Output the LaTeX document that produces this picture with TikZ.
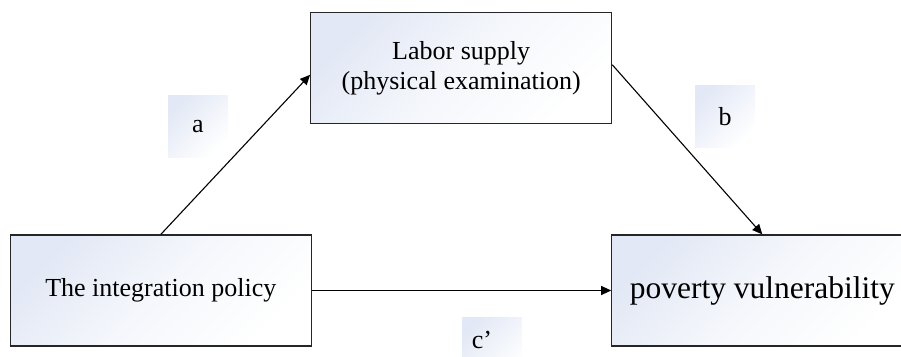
\documentclass[tikz,border=0pt]{standalone}
\usepackage{fontspec}
\setmainfont{Liberation Serif}
\usetikzlibrary{arrows.meta}
\definecolor{boxblue}{RGB}{226,232,245}
\tikzset{
    varbox/.style={draw=black!85, line width=1.2pt, top color=boxblue, bottom color=white, middle color=boxblue!35!white, shading angle=45,
        minimum width=301pt, minimum height=111pt, align=center, font=\fontsize{26}{30}\selectfont},
    coefbox/.style={top color=boxblue, bottom color=white, shading angle=45,
        minimum width=60pt, minimum height=62pt, inner sep=0pt, font=\fontsize{26}{30}\selectfont}
}
\begin{document}
\begin{tikzpicture}[x=1pt, y=1pt, >={Triangle[length=10pt,width=9pt]}, line width=1.1pt]
    \clip (0,0) rectangle (901,356);

    \node[varbox] (pol) at (160.8,65.5) {The integration policy};
    \node[varbox] (lab) at (461.2,288.2) {Labor supply\\(physical examination)};
    \node[varbox, font=\fontsize{31.5}{36}\selectfont] (pov) at (762.3,65.5) {poverty vulnerability};

    \node[coefbox] (a) at (198,229.3) {a};
    \node[coefbox] (b) at (725,239.5) {b};
    \node[coefbox] (cbox) at (492,8) {};
    \node[anchor=base, inner sep=0pt, font=\fontsize{26}{30}\selectfont] (c) at (482,8) {c'};

    \draw[->]  (pol.north) -- ([yshift=-7pt]lab.west);
    \draw[->]  ([yshift=3pt]lab.east) -- (pov.north);
    \draw[->]  (pol.east) -- (pov.west);
\end{tikzpicture}
\end{document}
